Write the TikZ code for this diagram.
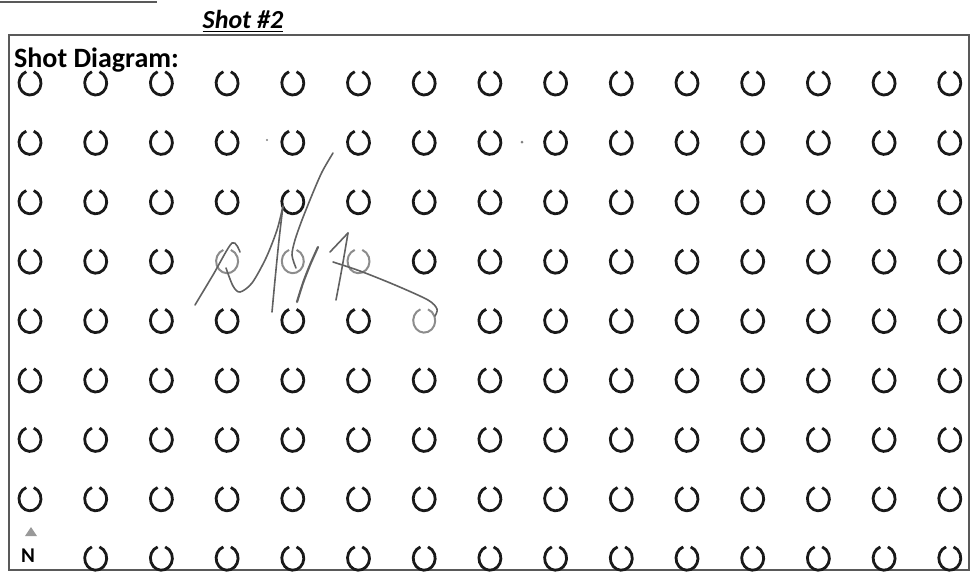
\documentclass[tikz,border=0pt]{standalone}
\usepackage{fontspec}
\setmainfont{Carlito}
\begin{document}
\begin{tikzpicture}[x=1pt,y=1pt,
    hole/.style={line width=2.8pt, black!90},
    faint/.style={line width=2pt, black!45},
    sig/.style={line width=1.6pt, black!62, line cap=round, line join=round},
    frame/.style={line width=2.8pt, black!65}]
  \useasboundingbox (0,0) rectangle (975,-582);

  % Frame
  \draw[frame] (9,-35) rectangle (969,-570);
  \draw[frame, line width=1.6pt] (0,-2) -- (157,-2);

  % Titles
  \node[font=\bfseries\itshape\fontsize{26}{29}\selectfont, anchor=base, inner sep=0pt] (title) at (243,-28) {Shot \#2};
  \draw[line width=1.8pt] ([yshift=-3.5pt]title.base west) -- ([yshift=-3.5pt]title.base east);
  \node[font=\bfseries\fontsize{28}{31}\selectfont, anchor=base west, inner sep=0pt] (label) at (14,-67) {Shot Diagram:};

  % Holes
  \foreach \r in {1,...,9}
    \foreach \c in {1,...,15}{
      \pgfmathtruncatemacro{\skipit}{(\r==9 && \c==1) || (\r==4 && \c>3 && \c<7) || (\r==5 && \c==7)}
      \ifnum\skipit=0
        \draw[hole] ({30+(\c-1)*65.7},{-83-(\r-1)*59.4}) ++(110:11 and 12) arc[start angle=110, end angle=430, x radius=11, y radius=12];
      \fi
    }

  % Holes under the signature
  \foreach \c/\r in {4/4, 5/4, 6/4, 7/5}
    \draw[faint] ({30+(\c-1)*65.7},{-83-(\r-1)*59.4}) ++(110:11 and 12) arc[start angle=110, end angle=430, x radius=11, y radius=12];

  % Signature
  \draw[sig] plot[smooth] coordinates {(195,-305) (213,-275) (232,-243) (240,-252)};
  \draw[sig] plot[smooth] coordinates {(226,-268) (233,-286) (240,-292) (252,-283) (266,-258) (277,-230) (283,-206)};
  \draw[sig] plot[smooth] coordinates {(283,-206) (279,-240) (275,-280) (272,-312)};
  \draw[sig] plot[smooth] coordinates {(333,-153) (322,-172) (312,-195) (302,-220) (295,-240) (292,-255) (296,-268)};
  \draw[sig, line width=2.2pt] plot[smooth] coordinates {(318,-247) (310,-265) (303,-283) (297,-302)};
  \draw[sig] plot[smooth] coordinates {(336,-300) (342,-268) (348,-233)};
  \draw[sig] (348,-233) -- (330,-252);
  \draw[sig] plot[smooth] coordinates {(333,-262) (360,-271) (395,-285) (428,-300) (437,-309) (435,-316)};

  % Specks
  \fill[black!50] (267,-140) circle (1.2) (522,-142) circle (1.5);

  % North mark
  \fill[black!40] (25,-536) -- (31,-527) -- (37,-536) -- cycle;
  \node[font=\bfseries\fontsize{21}{24}\selectfont, inner sep=0pt] (north) at (28,-556) {N};
\end{tikzpicture}
\end{document}
